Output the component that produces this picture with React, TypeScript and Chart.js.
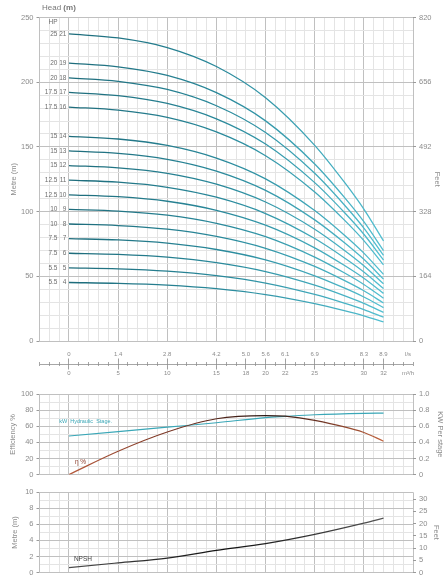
import React, { useEffect, useRef } from 'react';
import { Chart, registerables } from 'chart.js';

Chart.register(...registerables);

// ---------- data ----------
const flowQ = [0, 5, 10, 15, 20, 25, 28, 30, 32]; // m3/h
const stages = [21, 19, 18, 17, 16, 14, 13, 12, 11, 10, 9, 8, 7, 6, 5, 4];
const hpRatings = ['25', '20', '20', '17.5', '17.5', '15', '15', '15', '12.5', '12.5', '10', '10', '7.5', '7.5', '5.5', '5.5'];

const head21 = [237.3, 234.2, 226.8, 212.1, 188.0, 151.2, 122.9, 101.9, 77.3];
const head19 = [214.7, 211.9, 205.2, 191.9, 170.1, 136.8, 111.2, 92.2, 69.9];
const head18 = [203.4, 200.7, 194.4, 181.8, 161.1, 129.6, 105.3, 87.3, 66.2];
const head17 = [192.1, 189.6, 183.6, 171.7, 152.2, 122.4, 99.5, 82.5, 62.6];
const head16 = [180.8, 178.4, 172.8, 161.6, 143.2, 115.2, 93.6, 77.6, 58.9];
const head14 = [158.2, 156.1, 151.2, 141.4, 125.3, 100.8, 81.9, 67.9, 51.5];
const head13 = [146.9, 145.0, 140.4, 131.3, 116.4, 93.6, 76.1, 63.1, 47.8];
const head12 = [135.6, 133.8, 129.6, 121.2, 107.4, 86.4, 70.2, 58.2, 44.2];
const head11 = [124.3, 122.7, 118.8, 111.1, 98.5, 79.2, 64.4, 53.4, 40.5];
const head10 = [113.0, 111.5, 108.0, 101.0, 89.5, 72.0, 58.5, 48.5, 36.8];
const head9 = [101.7, 100.4, 97.2, 90.9, 80.6, 64.8, 52.7, 43.7, 33.1];
const head8 = [90.4, 89.2, 86.4, 80.8, 71.6, 57.6, 46.8, 38.8, 29.4];
const head7 = [79.1, 78.1, 75.6, 70.7, 62.7, 50.4, 41.0, 34.0, 25.8];
const head6 = [67.8, 66.9, 64.8, 60.6, 53.7, 43.2, 35.1, 29.1, 22.1];
const head5 = [56.5, 55.8, 54.0, 50.5, 44.8, 36.0, 29.3, 24.3, 18.4];
const head4 = [45.2, 44.6, 43.2, 40.4, 35.8, 28.8, 23.4, 19.4, 14.7];
const headCurves = [head21, head19, head18, head17, head16, head14, head13, head12, head11, head10, head9, head8, head7, head6, head5, head4];

const effQ = [0, 5, 10, 15, 20, 22, 25, 30, 32];
const efficiency = [0, 29, 53, 69.5, 73.5, 72.7, 67.4, 52.4, 41.5];
const kwPerStage = [0.48, 0.535, 0.59, 0.645, 0.71, 0.725, 0.745, 0.762, 0.765];

const npshQ = [0, 5, 10, 15, 20, 25, 30, 32];
const npsh = [0.6, 1.2, 1.8, 2.75, 3.6, 4.75, 6.15, 6.77];

const flowTicksM3h = [0, 5, 10, 15, 18, 20, 22, 25, 30, 32];
const flowTicksLs = ['0', '1.4', '2.8', '4.2', '5.0', '5.6', '6.1', '6.9', '8.3', '8.9'];

// ---------- styles ----------
const FONT = '"Liberation Sans", Arial, Helvetica, sans-serif';
const MAJOR = '#c0c0c0';
const MINOR = '#e4e4e4';
const TICKC = '#9a9a9a';
const TXT = '#8c8c8c';
const KW_COLOR = '#3aa7b7';
const Q_MIN = -3;
const Q_MAX = 35;
const LEFT_W = 39.5;
const RIGHT_W = 35;
const UNIT_POS = 34.5;

const isMult = (v: number, m: number) => Math.abs(v / m - Math.round(v / m)) < 1e-6;

function xGrid(): any {
  return {
    type: 'linear',
    position: 'bottom',
    min: Q_MIN,
    max: Q_MAX,
    ticks: { display: false, stepSize: 1 },
    grid: {
      color: (c: any) => (c.tick && isMult(c.tick.value, 5) ? MAJOR : MINOR),
      drawTicks: false,
    },
    border: { display: false },
    afterFit: (s: any) => {
      s.height = 0;
    },
  };
}

function yLeft(min: number, max: number, step: number, every: number, title: string, titlePad: number): any {
  return {
    type: 'linear',
    position: 'left',
    min,
    max,
    ticks: {
      stepSize: step,
      autoSkip: false,
      color: TXT,
      padding: 3,
      font: { size: 7.5, family: FONT },
      callback: (v: any) => (isMult(Number(v), every) ? String(Math.round(Number(v))) : ''),
    },
    grid: {
      color: (c: any) => (c.tick && isMult(c.tick.value, every) ? MAJOR : MINOR),
      tickLength: 3,
      tickColor: (c: any) => (c.tick && isMult(c.tick.value, every) ? TICKC : 'rgba(0,0,0,0)'),
    },
    border: { display: true, color: MAJOR },
    title: {
      display: true,
      text: title,
      color: TXT,
      font: { size: 7.5, family: FONT },
      padding: { top: titlePad, bottom: 0 },
    },
    afterFit: (s: any) => {
      s.width = LEFT_W;
    },
  };
}

function yRight(min: number, max: number, step: number, fmt: (v: number) => string, title: string, titlePad: number): any {
  return {
    type: 'linear',
    position: 'right',
    min,
    max,
    ticks: {
      stepSize: step,
      autoSkip: false,
      includeBounds: false,
      color: TXT,
      padding: 3,
      font: { size: 7.5, family: FONT },
      callback: (v: any) => fmt(Number(v)),
    },
    grid: { drawOnChartArea: false, tickLength: 3, tickColor: TICKC },
    border: { display: false },
    title: {
      display: true,
      text: title,
      color: TXT,
      font: { size: 7.5, family: FONT },
      padding: { top: titlePad, bottom: 0 },
    },
    afterFit: (s: any) => {
      s.width = RIGHT_W;
    },
  };
}

function hGradient(stops: [number, string][]) {
  return (ctx: any) => {
    const chart = ctx.chart;
    const area = chart.chartArea;
    const xs = chart.scales.x;
    if (!area || !xs) return stops[0][1];
    const g = chart.ctx.createLinearGradient(xs.getPixelForValue(0), 0, xs.getPixelForValue(32), 0);
    stops.forEach(([p, c]) => g.addColorStop(p, c));
    return g;
  };
}

const baseOptions = (padTop: number, padBottom: number): any => ({
  responsive: false,
  animation: false,
  events: [],
  layout: { padding: { top: padTop, bottom: padBottom, left: 0, right: 0 } },
  plugins: { legend: { display: false }, tooltip: { enabled: false }, title: { display: false } },
});

const mainLabels = {
  id: 'mainLabels',
  afterDatasetsDraw(chart: any) {
    const { ctx, chartArea } = chart;
    const x = chart.scales.x;
    const y = chart.scales.y;
    const x0 = x.getPixelForValue(flowQ[0]);
    ctx.save();
    ctx.font = `6.5px ${FONT}`;
    ctx.fillStyle = '#6e6e6e';
    ctx.textBaseline = 'middle';
    ctx.textAlign = 'right';
    headCurves.forEach((curve, i) => {
      const py = y.getPixelForValue(curve[0]);
      ctx.fillText(String(stages[i]), x0 - 2.5, py);
      ctx.fillText(hpRatings[i], x0 - 11.5, py);
    });
    ctx.textAlign = 'center';
    ctx.fillText('HP', x0 - 16, chartArea.top + 5);
    ctx.textAlign = 'left';
    ctx.font = `8px ${FONT}`;
    ctx.fillStyle = '#777';
    const hx = chartArea.left + 2.5;
    ctx.fillText('Head ', hx, 7.5);
    const w = ctx.measureText('Head ').width;
    ctx.font = `bold 8px ${FONT}`;
    ctx.fillText('(m)', hx + w, 7.5);
    ctx.restore();
  },
};

const effLabels = {
  id: 'effLabels',
  afterDatasetsDraw(chart: any) {
    const { ctx } = chart;
    const x = chart.scales.x;
    const y = chart.scales.y;
    ctx.save();
    ctx.textBaseline = 'middle';
    ctx.textAlign = 'left';
    ctx.font = `5.5px ${FONT}`;
    ctx.fillStyle = KW_COLOR;
    ctx.fillText('kW  Hydraulic  Stage.', x.getPixelForValue(-1), y.getPixelForValue(66));
    ctx.font = `6.5px ${FONT}`;
    ctx.fillStyle = '#8a3a28';
    ctx.fillText('η %', x.getPixelForValue(0.6), y.getPixelForValue(15));
    ctx.restore();
  },
};

const npshLabels = {
  id: 'npshLabels',
  afterDatasetsDraw(chart: any) {
    const { ctx } = chart;
    const x = chart.scales.x;
    const y = chart.scales.y;
    ctx.save();
    ctx.textBaseline = 'middle';
    ctx.textAlign = 'left';
    ctx.font = `6.5px ${FONT}`;
    ctx.fillStyle = '#444';
    ctx.fillText('NPSH', x.getPixelForValue(0.5), y.getPixelForValue(1.6));
    ctx.restore();
  },
};

function flowAxis(position: 'top' | 'bottom', labels: string[], unit: string, height: number): any {
  return {
    type: 'linear',
    position,
    min: Q_MIN,
    max: Q_MAX,
    afterBuildTicks: (s: any) => {
      s.ticks = [...flowTicksM3h.map((v) => ({ value: v })), { value: UNIT_POS }];
    },
    ticks: {
      autoSkip: false,
      maxRotation: 0,
      minRotation: 0,
      padding: 0.5,
      color: TXT,
      font: { size: 6, family: FONT },
      callback: (_v: any, i: number) => (i < labels.length ? labels[i] : unit),
    },
    grid: {
      drawOnChartArea: false,
      tickLength: 3.5,
      lineWidth: 0.8,
      tickColor: (c: any) => (c.index < labels.length ? '#888' : 'rgba(0,0,0,0)'),
    },
    border: { display: false },
    afterFit: (s: any) => {
      s.height = height;
    },
  };
}

export default function App() {
  const mainRef = useRef<HTMLCanvasElement>(null);
  const flowRef = useRef<HTMLCanvasElement>(null);
  const effRef = useRef<HTMLCanvasElement>(null);
  const npshRef = useRef<HTMLCanvasElement>(null);

  useEffect(() => {
    Chart.defaults.font.family = FONT;
    const charts: Chart[] = [];

    // main head chart
    charts.push(
      new Chart(mainRef.current as HTMLCanvasElement, {
        type: 'line',
        data: {
          datasets: headCurves.map((curve, i) => ({
            label: `${stages[i]} stages`,
            data: flowQ.map((q, j) => ({ x: q, y: curve[j] })),
            borderColor: hGradient([
              [0, '#1e6c7b'],
              [0.5, '#2a8a9c'],
              [1, '#52bfd1'],
            ]),
            borderWidth: 1.3,
            pointRadius: 0,
            cubicInterpolationMode: 'monotone',
            fill: false,
          })),
        },
        options: {
          ...baseOptions(17.5, 9),
          scales: {
            x: xGrid(),
            y: yLeft(0, 250, 10, 50, 'Metre (m)', 9),
            yR: yRight(0, 250, 50, (v) => String(Math.round(v * 3.28)), 'Feet', 6),
          },
        },
        plugins: [mainLabels],
      } as any)
    );

    // flow scale (l/s over m3/h)
    charts.push(
      new Chart(flowRef.current as HTMLCanvasElement, {
        type: 'line',
        data: { datasets: [] },
        options: {
          responsive: false,
          animation: false,
          events: [],
          layout: { padding: { top: 0, bottom: 0, left: LEFT_W, right: RIGHT_W } },
          plugins: { legend: { display: false }, tooltip: { enabled: false } },
          scales: {
            xMinor: {
              type: 'linear',
              position: 'bottom',
              min: Q_MIN,
              max: Q_MAX,
              ticks: { display: false, stepSize: 1 },
              grid: { drawOnChartArea: true, drawTicks: false, color: '#8f8f8f', lineWidth: 0.8 },
              border: { display: false },
              afterFit: (s: any) => {
                s.height = 0;
              },
            },
            xTop: flowAxis('top', flowTicksLs, 'l/s', 22),
            xBot: flowAxis('bottom', flowTicksM3h.map(String), 'm³/h', 19),
            y: {
              type: 'linear',
              position: 'left',
              min: -1,
              max: 1,
              afterBuildTicks: (s: any) => {
                s.ticks = [{ value: 0 }];
              },
              ticks: { display: false },
              grid: { color: '#8f8f8f', drawTicks: false, lineWidth: 0.8 },
              border: { display: false },
              afterFit: (s: any) => {
                s.width = 0;
              },
            },
          },
        },
      } as any)
    );

    // efficiency / kW panel
    charts.push(
      new Chart(effRef.current as HTMLCanvasElement, {
        type: 'line',
        data: {
          datasets: [
            {
              label: 'η %',
              data: effQ.map((q, j) => ({ x: q, y: efficiency[j] })),
              yAxisID: 'y',
              borderColor: hGradient([
                [0, '#b65a3c'],
                [0.4, '#6a2e20'],
                [0.62, '#2a1712'],
                [0.8, '#6e3424'],
                [1, '#c2643f'],
              ]),
              borderWidth: 1.2,
              pointRadius: 0,
              cubicInterpolationMode: 'monotone',
            },
            {
              label: 'kW Hydraulic Stage',
              data: effQ.map((q, j) => ({ x: q, y: kwPerStage[j] })),
              yAxisID: 'yR',
              borderColor: KW_COLOR,
              borderWidth: 1.2,
              pointRadius: 0,
              cubicInterpolationMode: 'monotone',
            },
          ],
        },
        options: {
          ...baseOptions(9.3, 5.7),
          scales: {
            x: xGrid(),
            y: yLeft(0, 100, 10, 20, 'Efficiency %', 8.5),
            yR: yRight(0, 1, 0.2, (v) => (Math.abs(v) < 1e-9 ? '0' : v.toFixed(1)), 'KW Per stage', 3),
          },
        },
        plugins: [effLabels],
      } as any)
    );

    // NPSH panel
    charts.push(
      new Chart(npshRef.current as HTMLCanvasElement, {
        type: 'line',
        data: {
          datasets: [
            {
              label: 'NPSH',
              data: npshQ.map((q, j) => ({ x: q, y: npsh[j] })),
              borderColor: hGradient([
                [0, '#4a4a4a'],
                [0.5, '#111111'],
                [1, '#555555'],
              ]),
              borderWidth: 1.2,
              pointRadius: 0,
              cubicInterpolationMode: 'monotone',
            },
          ],
        },
        options: {
          ...baseOptions(10.3, 5),
          scales: {
            x: xGrid(),
            y: yLeft(0, 10, 1, 2, 'Metre (m)', 10),
            yR: yRight(0, 32.8, 5, (v) => String(Math.round(v)), 'Feet', 7),
          },
        },
        plugins: [npshLabels],
      } as any)
    );

    return () => {
      charts.forEach((c) => c.destroy());
    };
  }, []);

  const abs = (top: number): React.CSSProperties => ({ position: 'absolute', left: 0, top });

  return (
    <div style={{ position: 'fixed', left: 0, top: 0, width: 448, height: 580, background: '#fff', overflow: 'hidden' }}>
      <canvas ref={mainRef} width={448} height={350} style={abs(0)} />
      <canvas ref={flowRef} width={448} height={45} style={abs(340)} />
      <canvas ref={effRef} width={448} height={97} style={abs(385)} />
      <canvas ref={npshRef} width={448} height={98} style={abs(482)} />
    </div>
  );
}
